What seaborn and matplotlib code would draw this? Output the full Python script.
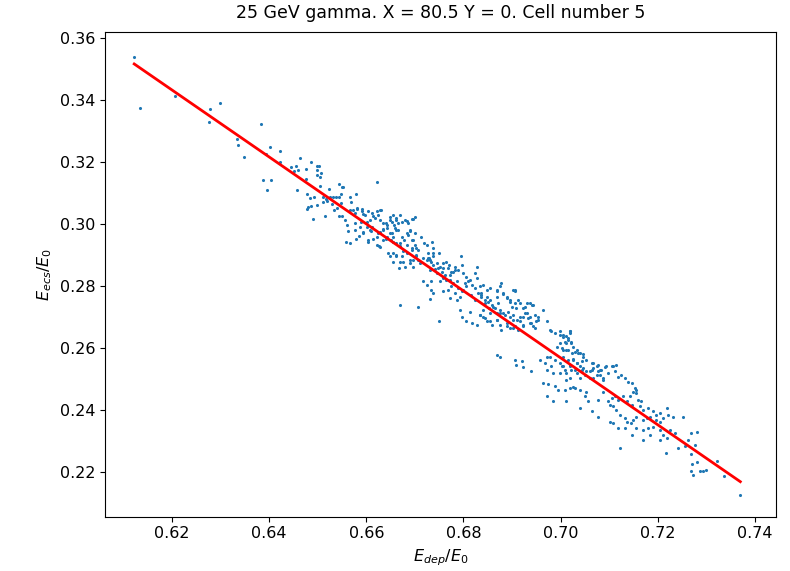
import matplotlib
matplotlib.use("Agg")
import matplotlib.pyplot as plt
import numpy as np
import pandas as pd
import seaborn as sns

# Deposited energy fraction E_dep/E0 for each event
e_dep = [
    0.6122, 0.6133, 0.6206, 0.6279, 0.6299, 0.6276, 0.6383, 0.6334, 0.6335, 0.6348,
    0.6401, 0.6422, 0.6393, 0.6422, 0.6444, 0.6455, 0.6459, 0.6452, 0.6463, 0.6388,
    0.6404, 0.6396, 0.6475, 0.6487, 0.6498, 0.6503, 0.6498, 0.6498, 0.6507, 0.6505,
    0.6475, 0.6457, 0.6477, 0.6484, 0.6493, 0.6505, 0.6523, 0.6543, 0.6510, 0.6517,
    0.6525, 0.6531, 0.6537, 0.6544, 0.6480, 0.6477, 0.6487, 0.6499, 0.6511, 0.6518,
    0.6529, 0.6534, 0.6539, 0.6490, 0.6515, 0.6544,
    0.6550, 0.6552, 0.6548, 0.6548, 0.6549, 0.6556, 0.6566, 0.6568, 0.6579, 0.6572,
    0.6576, 0.6581, 0.6590, 0.6594, 0.6577, 0.6589, 0.6561, 0.6563, 0.6577, 0.6585,
    0.6594, 0.6602, 0.6607, 0.6613, 0.6611, 0.6609, 0.6622, 0.6614, 0.6604, 0.6621,
    0.6628, 0.6631, 0.6640, 0.6642, 0.6628, 0.6635, 0.6622, 0.6627, 0.6629, 0.6649,
    0.6652, 0.6657, 0.6659, 0.6662, 0.6649, 0.6655, 0.6650, 0.6640, 0.6666, 0.6684,
    0.6700, 0.6690, 0.6686, 0.6700, 0.6677, 0.6693, 0.6662, 0.6669, 0.6655, 0.6645,
    0.6662, 0.6669, 0.6683, 0.6693, 0.6700, 0.6707, 0.6703, 0.6696, 0.6690, 0.6679,
    0.6668, 0.6707, 0.6696, 0.6559, 0.6566, 0.6579, 0.6669, 0.6695, 0.6673,
    0.6712, 0.6719, 0.6724, 0.6736, 0.6738, 0.6727, 0.6738, 0.6750, 0.6717, 0.6724,
    0.6729, 0.6734, 0.6738, 0.6731, 0.6741, 0.6745, 0.6751, 0.6758, 0.6765, 0.6771,
    0.6779, 0.6782, 0.6795, 0.6796, 0.6799, 0.6806, 0.6813, 0.6827, 0.6823, 0.6828,
    0.6765, 0.6772, 0.6758, 0.6751, 0.6734, 0.6717, 0.6724, 0.6734, 0.6738, 0.6732,
    0.6758, 0.6768, 0.6775, 0.6782, 0.6772, 0.6786, 0.6793, 0.6799, 0.6806, 0.6815,
    0.6823, 0.6837, 0.6848, 0.6854, 0.6868, 0.6875, 0.6868, 0.6882, 0.6889, 0.6906,
    0.6895, 0.6906, 0.6913, 0.6923, 0.6930, 0.6942, 0.6844, 0.6841, 0.6834, 0.6853,
    0.6861, 0.6854, 0.6868, 0.6875, 0.6882, 0.6892, 0.6902, 0.6910, 0.6916, 0.6926,
    0.6937, 0.6947, 0.6954, 0.6793, 0.6796, 0.6813, 0.6806, 0.6817, 0.6828, 0.6844,
    0.6854, 0.6868, 0.6875, 0.6889, 0.6895, 0.6906, 0.6923, 0.6943, 0.6937, 0.6750,
    0.6707, 0.6669,
    0.6964, 0.6971, 0.6978, 0.6981, 0.6988, 0.6998, 0.7005, 0.7019, 0.7015, 0.7022,
    0.7011, 0.6998, 0.6992, 0.7005, 0.7015, 0.7026, 0.7033, 0.7040, 0.7046, 0.7053,
    0.7043, 0.7033, 0.7026, 0.7019, 0.7005, 0.6998, 0.6988, 0.6978, 0.6971, 0.6967,
    0.6957, 0.6981, 0.6971, 0.6985, 0.6998, 0.7012, 0.7022, 0.7033, 0.7046, 0.7053,
    0.7064, 0.7067, 0.7077, 0.7081, 0.7094, 0.7105, 0.7115, 0.7074, 0.7087, 0.7060,
    0.7040, 0.7019, 0.6940, 0.6920, 0.6875, 0.6868, 0.6906, 0.6909, 0.6923,
    0.6964, 0.6974, 0.6988, 0.6995, 0.6971, 0.6985,
    0.7125, 0.7132, 0.7139, 0.7146, 0.7153, 0.7156, 0.7149, 0.7155, 0.7142, 0.7129,
    0.7136, 0.7146, 0.7159, 0.7166, 0.7163, 0.7170, 0.7180, 0.7190, 0.7197, 0.7204,
    0.7218, 0.7221, 0.7231, 0.7211, 0.7204, 0.7197, 0.7184, 0.7177, 0.7170, 0.7156,
    0.7149, 0.7144, 0.7136, 0.7132, 0.7122, 0.7115, 0.7108, 0.7101, 0.7098, 0.7105,
    0.7112, 0.7118, 0.7087, 0.7077, 0.7057, 0.7040, 0.7064, 0.7077, 0.7101, 0.7108,
    0.7118, 0.7132, 0.7146, 0.7156, 0.7170, 0.7180, 0.7190, 0.7204, 0.7211, 0.7225,
    0.7235, 0.7218, 0.7204, 0.7184, 0.7170, 0.7252, 0.7269, 0.7280, 0.7262, 0.7276,
    0.7256, 0.7242, 0.7122, 0.7012, 0.7009, 0.7019, 0.7029, 0.7040, 0.7053, 0.7050,
    0.7323, 0.7336, 0.7370, 0.7269, 0.7273, 0.7286, 0.7293, 0.7300, 0.7280, 0.7271,
    0.7269, 0.7216,
    0.6834, 0.6841, 0.6837, 0.6848, 0.6854, 0.6871, 0.6878, 0.6868, 0.6882, 0.6889,
    0.6895, 0.6902, 0.6906, 0.6899, 0.6909, 0.6916, 0.6926, 0.6930, 0.6937, 0.6943,
    0.6933, 0.6923, 0.6916, 0.6902, 0.6895, 0.6885, 0.6875, 0.6868, 0.6858, 0.6848,
    0.6841, 0.6834, 0.6878, 0.6889, 0.6902, 0.6913, 0.6923, 0.6940, 0.6950, 0.6954,
    0.6947,
    0.6998, 0.7005, 0.7012, 0.7019, 0.7020, 0.7009, 0.7015, 0.7022, 0.7002, 0.7012,
    0.7024, 0.7029, 0.7036, 0.7046, 0.7005, 0.7015, 0.7026, 0.7033, 0.7040, 0.7043,
    0.7029, 0.7019, 0.7009, 0.7002, 0.7050, 0.7060, 0.7064, 0.7067, 0.7074, 0.7077,
    0.7084, 0.7081, 0.7092, 0.7098, 0.7108, 0.7112, 0.7118, 0.7067, 0.7087, 0.7012,
    0.7026,
    0.6566, 0.6580, 0.6590, 0.6597, 0.6604, 0.6611, 0.6618, 0.6624, 0.6629, 0.6635,
    0.6642, 0.6649, 0.6655, 0.6662, 0.6666, 0.6673, 0.6679, 0.6686, 0.6697, 0.6690,
    0.6683, 0.6673, 0.6662, 0.6652, 0.6642, 0.6635, 0.6624, 0.6607, 0.6601, 0.6587,
    0.6594, 0.6604, 0.6621, 0.6635, 0.6655, 0.6669, 0.6683, 0.6697, 0.6703, 0.6693,
    0.6676, 0.6662, 0.6649, 0.6655, 0.6676, 0.6690, 0.6703, 0.6710,
    0.6727, 0.6731, 0.6738, 0.6745, 0.6748, 0.6755, 0.6762, 0.6758, 0.6768, 0.6775,
    0.6782, 0.6789, 0.6772, 0.6779, 0.6786, 0.6789, 0.6796, 0.6803, 0.6810, 0.6817,
    0.6823, 0.6830, 0.6837, 0.6844, 0.6851, 0.6858, 0.6865,
]

# Energy fraction seen by the ECS, E_ecs/E0, for the same events
e_ecs = [
    0.3538, 0.3374, 0.3411, 0.3371, 0.3391, 0.3327, 0.3323, 0.3275, 0.3255, 0.3216,
    0.3247, 0.3235, 0.3226, 0.3200, 0.3184, 0.3187, 0.3174, 0.3169, 0.3212, 0.3140,
    0.3140, 0.3109, 0.3178, 0.3199, 0.3188, 0.3185, 0.3174, 0.3158, 0.3164, 0.3151,
    0.3145, 0.3109, 0.3096, 0.3082, 0.3087, 0.3123, 0.3112, 0.3127, 0.3088, 0.3080,
    0.3086, 0.3088, 0.3088, 0.3086, 0.3054, 0.3049, 0.3058, 0.3060, 0.3072, 0.3074,
    0.3064, 0.3045, 0.3051, 0.3017, 0.3026, 0.3026,
    0.3120, 0.3120, 0.3097, 0.3067, 0.3026, 0.3013, 0.3088, 0.3069, 0.3097, 0.3045,
    0.3036, 0.3047, 0.3048, 0.3032, 0.3004, 0.3007, 0.2997, 0.2978, 0.2981, 0.2961,
    0.2975, 0.3007, 0.3013, 0.3026, 0.2989, 0.2978, 0.3136, 0.2951, 0.2943, 0.3040,
    0.3013, 0.3045, 0.3002, 0.2986, 0.2975, 0.2983, 0.2959, 0.2929, 0.2925, 0.3022,
    0.3007, 0.2997, 0.2986, 0.3013, 0.2970, 0.2959, 0.2948, 0.2951, 0.2981, 0.3010,
    0.3022, 0.2978, 0.2965, 0.2972, 0.2948, 0.2948, 0.2938, 0.2927, 0.2906, 0.2906,
    0.2895, 0.2877, 0.2906, 0.2922, 0.2932, 0.2916, 0.2900, 0.2884, 0.2873, 0.2862,
    0.2857, 0.2884, 0.2862, 0.2941, 0.2938, 0.2951, 0.3029, 0.3016, 0.2895,
    0.2957, 0.2938, 0.2932, 0.2940, 0.2922, 0.2906, 0.2906, 0.2907, 0.2889, 0.2884,
    0.2889, 0.2878, 0.2868, 0.2852, 0.2854, 0.2843, 0.2862, 0.2873, 0.2878, 0.2868,
    0.2846, 0.2852, 0.2895, 0.2868, 0.2843, 0.2830, 0.2819, 0.2862, 0.2843, 0.2825,
    0.2819, 0.2835, 0.2825, 0.2814, 0.2814, 0.2814, 0.2803, 0.2787, 0.2776, 0.2758,
    0.2782, 0.2787, 0.2798, 0.2776, 0.2760, 0.2755, 0.2765, 0.2787, 0.2798, 0.2771,
    0.2755, 0.2771, 0.2787, 0.2793, 0.2787, 0.2798, 0.2765, 0.2774, 0.2760, 0.2787,
    0.2749, 0.2744, 0.2755, 0.2728, 0.2744, 0.2739, 0.2744, 0.2723, 0.2706, 0.2728,
    0.2733, 0.2712, 0.2712, 0.2723, 0.2712, 0.2717, 0.2706, 0.2690, 0.2701, 0.2712,
    0.2701, 0.2706, 0.2690, 0.2723, 0.2701, 0.2717, 0.2685, 0.2680, 0.2674, 0.2696,
    0.2685, 0.2690, 0.2674, 0.2680, 0.2664, 0.2669, 0.2674, 0.2669, 0.2680, 0.2688,
    0.2731, 0.2739,
    0.2723, 0.2685, 0.2658, 0.2653, 0.2647, 0.2653, 0.2642, 0.2653, 0.2631, 0.2620,
    0.2615, 0.2615, 0.2604, 0.2594, 0.2594, 0.2604, 0.2594, 0.2583, 0.2572, 0.2561,
    0.2556, 0.2551, 0.2561, 0.2545, 0.2540, 0.2551, 0.2561, 0.2572, 0.2572, 0.2551,
    0.2561, 0.2540, 0.2529, 0.2518, 0.2518, 0.2518, 0.2529, 0.2518, 0.2535, 0.2524,
    0.2529, 0.2551, 0.2545, 0.2529, 0.2540, 0.2540, 0.2545, 0.2513, 0.2502, 0.2502,
    0.2502, 0.2502, 0.2524, 0.2556, 0.2572, 0.2577, 0.2561, 0.2545, 0.2538,
    0.2486, 0.2484, 0.2477, 0.2465, 0.2443, 0.2427,
    0.2513, 0.2502, 0.2491, 0.2486, 0.2470, 0.2465, 0.2459, 0.2454, 0.2443, 0.2443,
    0.2427, 0.2416, 0.2432, 0.2427, 0.2411, 0.2400, 0.2405, 0.2395, 0.2384, 0.2389,
    0.2405, 0.2384, 0.2378, 0.2373, 0.2362, 0.2368, 0.2378, 0.2373, 0.2368, 0.2378,
    0.2368, 0.2357, 0.2362, 0.2373, 0.2384, 0.2400, 0.2411, 0.2416, 0.2427, 0.2438,
    0.2443, 0.2432, 0.2459, 0.2432, 0.2427, 0.2405, 0.2395, 0.2378, 0.2362, 0.2357,
    0.2341, 0.2341, 0.2319, 0.2341, 0.2335, 0.2341, 0.2346, 0.2335, 0.2319, 0.2335,
    0.2325, 0.2309, 0.2303, 0.2319, 0.2303, 0.2378, 0.2325, 0.2330, 0.2303, 0.2287,
    0.2282, 0.2276, 0.2276, 0.2427, 0.2465, 0.2470, 0.2470, 0.2465, 0.2459, 0.2443,
    0.2235, 0.2185, 0.2126, 0.2204, 0.2190, 0.2203, 0.2204, 0.2206, 0.2233, 0.2226,
    0.2258, 0.2262,
    0.2798, 0.2803, 0.2776, 0.2765, 0.2755, 0.2744, 0.2809, 0.2782, 0.2776, 0.2765,
    0.2755, 0.2787, 0.2782, 0.2733, 0.2728, 0.2744, 0.2733, 0.2712, 0.2744, 0.2739,
    0.2696, 0.2701, 0.2685, 0.2690, 0.2701, 0.2706, 0.2712, 0.2690, 0.2674, 0.2685,
    0.2701, 0.2706, 0.2658, 0.2669, 0.2664, 0.2658, 0.2669, 0.2680, 0.2685, 0.2701,
    0.2664,
    0.2642, 0.2636, 0.2639, 0.2647, 0.2653, 0.2620, 0.2624, 0.2615, 0.2599, 0.2594,
    0.2583, 0.2585, 0.2583, 0.2580, 0.2572, 0.2561, 0.2564, 0.2551, 0.2540, 0.2529,
    0.2529, 0.2540, 0.2529, 0.2540, 0.2513, 0.2524, 0.2551, 0.2535, 0.2540, 0.2524,
    0.2529, 0.2513, 0.2537, 0.2518, 0.2540, 0.2524, 0.2507, 0.2502, 0.2497, 0.2497,
    0.2475,
    0.3045, 0.3051, 0.3040, 0.3029, 0.3040, 0.3035, 0.3018, 0.3029, 0.3045, 0.3002,
    0.2997, 0.3013, 0.3029, 0.3018, 0.3002, 0.3007, 0.3013, 0.3002, 0.3015, 0.2981,
    0.2970, 0.2959, 0.2981, 0.2970, 0.2959, 0.2981, 0.2970, 0.2981, 0.2991, 0.2991,
    0.2970, 0.2948, 0.2932, 0.2948, 0.2943, 0.2938, 0.2932, 0.2948, 0.2922, 0.2916,
    0.2911, 0.2900, 0.2895, 0.2878, 0.2878, 0.2884, 0.2895, 0.2873,
    0.2889, 0.2884, 0.2895, 0.2873, 0.2857, 0.2846, 0.2835, 0.2857, 0.2857, 0.2846,
    0.2862, 0.2852, 0.2819, 0.2809, 0.2814, 0.2793, 0.2782, 0.2809, 0.2814, 0.2803,
    0.2793, 0.2776, 0.2765, 0.2755, 0.2749, 0.2739, 0.2728,
]

# Linear fit E_ecs/E0 = slope * E_dep/E0 + intercept
fit_slope = -1.0799
fit_intercept = 1.0127

title = "25 GeV gamma. X = 80.5 Y = 0. Cell number 5"
x_label = r"$E_{dep}/E_0$"
y_label = r"$E_{ecs}/E_0$"
x_ticks = [0.62, 0.64, 0.66, 0.68, 0.70, 0.72, 0.74]
y_ticks = [0.22, 0.24, 0.26, 0.28, 0.30, 0.32, 0.34, 0.36]

df = pd.DataFrame({"e_dep": e_dep, "e_ecs": e_ecs})

fs = 11.5
plt.rcParams["font.family"] = ["DejaVu Sans"]
fig = plt.figure(figsize=(7.90, 5.71), dpi=100)
ax = fig.add_axes([0.133, 0.095, 0.849, 0.849])

sns.scatterplot(data=df, x="e_dep", y="e_ecs", ax=ax, s=5, linewidth=0,
                color="#1f77b4", legend=False)

fit_x = np.array([df["e_dep"].min(), df["e_dep"].max()])
ax.plot(fit_x, fit_slope * fit_x + fit_intercept, color="red", lw=2)

ax.set_xticks(x_ticks)
ax.set_xticklabels([f"{t:.2f}" for t in x_ticks], fontsize=fs)
ax.set_yticks(y_ticks)
ax.set_yticklabels([f"{t:.2f}" for t in y_ticks], fontsize=fs)
ax.set_xlim(0.6062, 0.7443)
ax.set_ylim(0.2055, 0.3619)
ax.set_xlabel(x_label, fontsize=fs)
ax.set_ylabel(y_label, fontsize=fs)
ax.set_title(title, fontsize=fs + 1, pad=10)

fig.savefig("out.png", dpi=100, facecolor="white")
